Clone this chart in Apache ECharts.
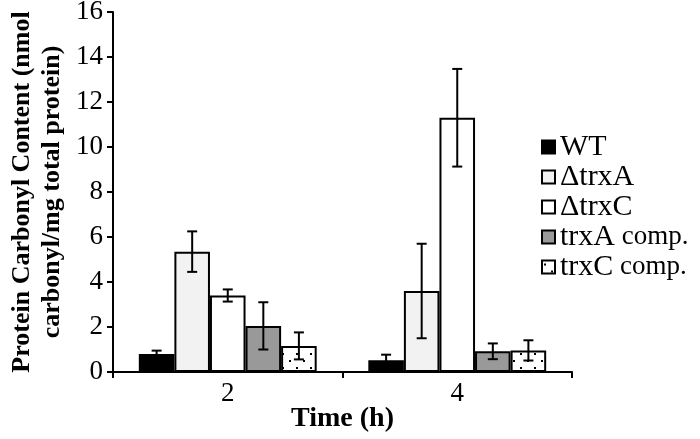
<!DOCTYPE html>
<html>
<head>
<meta charset="utf-8">
<script src="https://cdn.jsdelivr.net/npm/echarts@6/dist/echarts.min.js"></script>
<style>
  html, body { margin: 0; padding: 0; background: #fff; }
  #chart { width: 700px; height: 439px; }
</style>
</head>
<body>
<div id="chart"></div>
<script>
// data
var categories = ['2', '4'];
var seriesNames = ['WT', '\u0394trxA', '\u0394trxC', 'trxA comp.', 'trxC comp.'];
var wtVals = [0.8, 0.52];
var trxAVals = [5.35, 3.6];
var trxCVals = [3.4, 11.3];
var trxACompVals = [2.05, 0.92];
var trxCCompVals = [1.16, 0.96];
var wtErr = [0.15, 0.25];
var trxAErr = [0.9, 2.1];
var trxCErr = [0.27, 2.17];
var trxACompErr = [1.05, 0.35];
var trxCCompErr = [0.6, 0.45];
var yTicks = [0, 2, 4, 6, 8, 10, 12, 14, 16];

var values = [wtVals, trxAVals, trxCVals, trxACompVals, trxCCompVals];
var errors = [wtErr, trxAErr, trxCErr, trxACompErr, trxCCompErr];

// dotted fill for trxC comp.
function dotPattern() {
  var c = document.createElement('canvas');
  c.width = 14; c.height = 14;
  var ctx = c.getContext('2d');
  ctx.fillStyle = '#fff';
  ctx.fillRect(0, 0, 14, 14);
  ctx.fillStyle = '#000';
  ctx.fillRect(2, 3, 2, 2);
  ctx.fillRect(9, 10, 2, 2);
  return c;
}

var fills = ['#000000', '#f2f2f2', '#ffffff', '#999999', { image: dotPattern(), repeat: 'repeat' }];
var barPct = 0.155;
var font = 'Liberation Serif';

var chart = echarts.init(document.getElementById('chart'));

var series = values.map(function (v, i) {
  return {
    name: seriesNames[i],
    type: 'bar',
    data: v,
    barWidth: (barPct * 100) + '%',
    barGap: '0%',
    itemStyle: { color: fills[i], borderColor: '#000', borderWidth: 2 },
    z: 2
  };
});

var errData = [];
values.forEach(function (v, i) {
  v.forEach(function (m, c) { errData.push([c, i, m - errors[i][c], m + errors[i][c]]); });
});

series.push({
  type: 'custom',
  name: 'err',
  data: errData,
  z: 5,
  encode: { x: 0, y: [2, 3] },
  renderItem: function (params, api) {
    var c = api.value(0), i = api.value(1);
    var band = api.size([1, 0])[0];
    var lo = api.coord([c, api.value(2)]);
    var hi = api.coord([c, api.value(3)]);
    var x = lo[0] + (i - 2) * barPct * band;
    var cap = 5;
    var st = { stroke: '#000', lineWidth: 2 };
    return {
      type: 'group',
      children: [
        { type: 'line', shape: { x1: x, y1: lo[1], x2: x, y2: hi[1] }, style: st },
        { type: 'line', shape: { x1: x - cap, y1: lo[1], x2: x + cap, y2: lo[1] }, style: st },
        { type: 'line', shape: { x1: x - cap, y1: hi[1], x2: x + cap, y2: hi[1] }, style: st }
      ]
    };
  }
});

var option = {
  animation: false,
  backgroundColor: '#fff',
  grid: { left: 113, right: 128, top: 12, bottom: 67, containLabel: false, outerBoundsMode: 'none' },
  legend: {
    data: seriesNames,
    orient: 'vertical',
    left: 536,
    top: 127,
    icon: 'rect',
    itemWidth: 13,
    itemHeight: 13,
    itemGap: 0,
    formatter: function (n) {
      var k = n.indexOf(' comp.');
      return k > 0 ? n.slice(0, k) + '{s| comp.}' : n;
    },
    textStyle: {
      fontFamily: font, fontSize: 30, color: '#000', padding: [0, 0, 0, 0],
      rich: { s: { fontFamily: font, fontSize: 27, color: '#000' } }
    }
  },
  xAxis: {
    type: 'category',
    data: categories,
    name: 'Time (h)',
    nameLocation: 'middle',
    nameGap: 33,
    nameMoveOverlap: false,
    nameTextStyle: { fontFamily: font, fontSize: 28, fontWeight: 'bold', color: '#000' },
    axisLine: { lineStyle: { color: '#000', width: 2 } },
    axisTick: { show: true, length: 6, lineStyle: { color: '#000', width: 2 } },
    axisLabel: { fontFamily: font, fontSize: 27, color: '#000', margin: 8 }
  },
  yAxis: {
    type: 'value',
    min: 0,
    max: 16,
    interval: 2,
    name: 'Protein Carbonyl Content (nmol\ncarbonyl/mg total protein)',
    nameLocation: 'middle',
    nameGap: 46,
    nameMoveOverlap: false,
    nameTextStyle: { fontFamily: font, fontSize: 26, fontWeight: 'bold', color: '#000', lineHeight: 30 },
    axisLine: { show: true, lineStyle: { color: '#000', width: 2 } },
    axisTick: { show: true, length: 6, lineStyle: { color: '#000', width: 2 } },
    axisLabel: {
      fontFamily: font, fontSize: 27, color: '#000', margin: 10,
      formatter: function (v) { return yTicks.indexOf(v) >= 0 ? String(v) : ''; }
    },
    splitLine: { show: false }
  },
  series: series
};

chart.setOption(option);
</script>
</body>
</html>
